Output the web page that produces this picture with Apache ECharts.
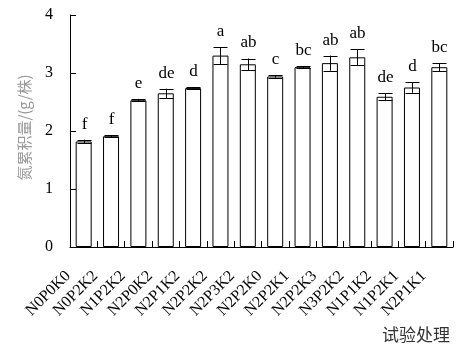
<!DOCTYPE html>
<html><head><meta charset="utf-8">
<script src="https://cdn.jsdelivr.net/npm/echarts@6/dist/echarts.min.js"></script>
<style>html,body{margin:0;padding:0;background:#fff}#c{width:470px;height:350px}</style>
</head><body><div id="c"></div>
<script>
var categories = ['N0P0K0','N0P2K2','N1P2K2','N2P0K2','N2P1K2','N2P2K2','N2P3K2','N2P2K0','N2P2K1','N2P2K3','N3P2K2','N1P1K2','N1P2K1','N2P1K1'];
var values = [1.82, 1.91, 2.53, 2.65, 2.74, 3.30, 3.15, 2.94, 3.10, 3.17, 3.27, 2.59, 2.75, 3.10];
var errors = [0.03, 0.02, 0.02, 0.08, 0.02, 0.15, 0.10, 0.02, 0.02, 0.13, 0.14, 0.06, 0.09, 0.07];
var letters = ['f','f','e','de','d','a','ab','c','bc','ab','ab','de','d','bc'];
var yTicks = [0, 1, 2, 3, 4];

var serif = '"Liberation Serif","Times New Roman",serif';
var chart = echarts.init(document.getElementById('c'), null, {renderer:'canvas'});
chart.setOption({
  animation: false,
  grid: {left: 70, top: 15, right: 17, bottom: 103},
  xAxis: {
    type: 'category', data: categories,
    axisLine: {lineStyle: {color: '#000', width: 1}},
    axisTick: {show: true, inside: true, length: 6, alignWithLabel: false, lineStyle: {color: '#000'}},
    axisLabel: {rotate: 45, margin: 11, fontFamily: serif, fontSize: 16, color: '#000', interval: 0, padding: [0, 22, 0, 0]},
    name: '试验处理', nameLocation: 'end', nameGap: -3,
    nameTextStyle: {fontFamily: '"Noto Sans CJK SC",sans-serif', fontSize: 17, color: '#333', align: 'right', verticalAlign: 'top', padding: [79, 0, 0, 0]}
  },
  yAxis: {
    type: 'value', min: yTicks[0], max: yTicks[yTicks.length-1], interval: 1,
    axisLine: {show: true, lineStyle: {color: '#000', width: 1}},
    axisTick: {show: true, inside: true, length: 6, lineStyle: {color: '#000'}},
    axisLabel: {fontFamily: serif, fontSize: 16, color: '#000', margin: 17},
    splitLine: {show: false},
    name: '氮累积量/(g/株)', nameLocation: 'middle', nameGap: 38, nameRotate: 90,
    nameTextStyle: {fontFamily: '"Noto Sans CJK SC",sans-serif', fontSize: 15, color: '#999', padding: [0, 0, 0, 7]}
  },
  series: [
    {type: 'bar', data: values, barWidth: 16, itemStyle: {color: '#fff', borderColor: '#000', borderWidth: 1}, z: 2},
    {type: 'custom', z: 3,
     data: values.map(function(v, i){ return [i, v, errors[i], letters[i]]; }),
     renderItem: function(params, api){
       var i = api.value(0), v = api.value(1), e = api.value(2);
       var lo = api.coord([i, v - e]), hi = api.coord([i, v + e]);
       var x = Math.round(lo[0]) + 0.5, hw = 7;
       var s = {stroke: '#000', lineWidth: 1};
       return {type: 'group', children: [
         {type: 'line', shape: {x1: x, y1: lo[1], x2: x, y2: hi[1]}, style: s},
         {type: 'line', shape: {x1: x-hw, y1: Math.round(lo[1])+0.5, x2: x+hw, y2: Math.round(lo[1])+0.5}, style: s},
         {type: 'line', shape: {x1: x-hw, y1: Math.round(hi[1])+0.5, x2: x+hw, y2: Math.round(hi[1])+0.5}, style: s},
         {type: 'text', style: {text: letters[i], x: x, y: hi[1] - 7, align: 'center', verticalAlign: 'bottom', font: '17px ' + serif, fill: '#000'}}
       ]};
     }}
  ]
});
</script></body></html>
